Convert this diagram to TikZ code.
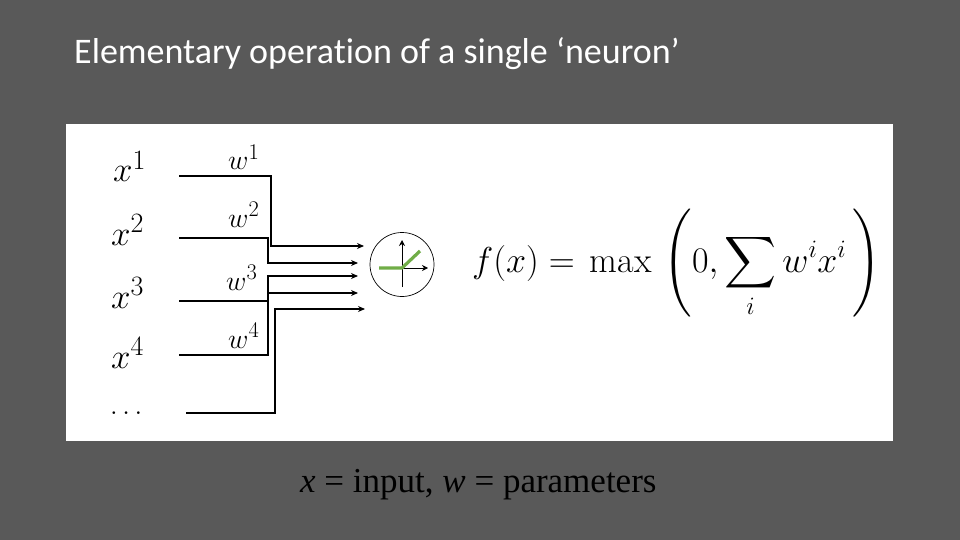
\RequirePackage{fix-cm}
\documentclass[tikz,border=0pt]{standalone}
\usepackage{fontspec}
\usepackage{amsmath}
\DeclareFontFamily{OMX}{cmex}{}
\DeclareFontShape{OMX}{cmex}{m}{n}{<-> cmex10}{}
\DeclareMathSizes{35}{35}{28}{20}
\DeclareMathSizes{28}{28}{22.4}{16}
\DeclareMathSizes{36}{36}{25}{18}
\newfontfamily\titlefont[Ligatures=NoCommon]{Carlito}
\newfontfamily\captionfont{Liberation Serif}
\usetikzlibrary{arrows.meta}
\definecolor{slidebg}{HTML}{595959}
\definecolor{relugreen}{HTML}{70AD47}
\tikzset{
  wire/.style={black,line width=1.8pt,line join=miter},
  inwire/.style={wire,-{Stealth[length=7pt,width=6pt]}},
  axisline/.style={black,line width=0.9pt},
  axisarrow/.style={axisline,-{Stealth[length=6pt,width=6pt]}},
  mathlabel/.style={inner sep=0pt,anchor=base west,black,font=\fontsize{35}{40}\selectfont},
  wlabel/.style={inner sep=0pt,anchor=base west,black,font=\fontsize{28}{34}\selectfont},
}
\begin{document}
\begin{tikzpicture}[x=1pt,y=-1pt]
\useasboundingbox (0,0) rectangle (960,540);
\fill[slidebg] (0,0) rectangle (960,540);
\fill[white] (66,124) rectangle (893,441);
\node[anchor=base west,inner sep=0pt,text=white,font=\titlefont\fontsize{36}{42}\selectfont] (title) at (74,64) {Elementary operation of a single ‘neuron’};
\node[anchor=base west,inner sep=0pt,text=black,font=\captionfont\fontsize{35}{40}\selectfont] (cap) at (300,492) {\textit{x} = input, \textit{w} = parameters};
% labels
\node[mathlabel] (x1) at (113,182) {$x^1$};
\node[mathlabel] (x2) at (111,245) {$x^2$};
\node[mathlabel] (x3) at (111,308) {$x^3$};
\node[mathlabel] (x4) at (111,368) {$x^4$};
\node[inner sep=0pt,anchor=base west,black,font=\fontsize{28}{34}\selectfont] (dots) at (110,414) {$\dots$};
\node[wlabel] (w1) at (228,170) {$w^1$};
\node[wlabel] (w2) at (228,227) {$w^2$};
\node[wlabel] (w3) at (226,290) {$w^3$};
\node[wlabel] (w4) at (228,348) {$w^4$};
% wires
\coordinate (s1) at (179,176);
\coordinate (s2) at (179,238);
\coordinate (s3) at (179,301);
\coordinate (s4) at (179,355);
\coordinate (s5) at (186,413);
\coordinate (e1) at (364,246);
\coordinate (e2) at (358,263);
\coordinate (e3) at (358,276);
\coordinate (e4) at (358,293);
\coordinate (e5) at (365,309);
\draw[inwire] (s1) -| (271,246) -- (e1);
\draw[inwire] (s2) -| (268,263) -- (e2);
\draw[inwire] (s4) -| (268,276) -- (e3);
\draw[wire] (s3) -- (268,301);
\draw[inwire] (268,293) -- (e4);
\draw[inwire] (s5) -| (275,309) -- (e5);
% neuron
\node[circle,draw=black,line width=0.7pt,minimum size=64pt,inner sep=0pt] (neuron) at (402,264.5) {};
\coordinate (o) at (402,268);
\draw[axisarrow] (402,287) -- (402,240);
\draw[axisarrow] (o) -- (428,268);
\draw[relugreen,line width=3.2pt,line join=round] (379,268) -- (o) -- (420,251);
% formula
\node[anchor=base west,inner sep=0pt,black,font=\fontsize{36}{42}\selectfont] (formula) at (472,272)
 {$\displaystyle f(x)=\hspace{5pt}\max\,\left(\vphantom{\rule[-44pt]{0pt}{96pt}}0,\sum_i w^ix^i\,\right)$};
\end{tikzpicture}
\end{document}
